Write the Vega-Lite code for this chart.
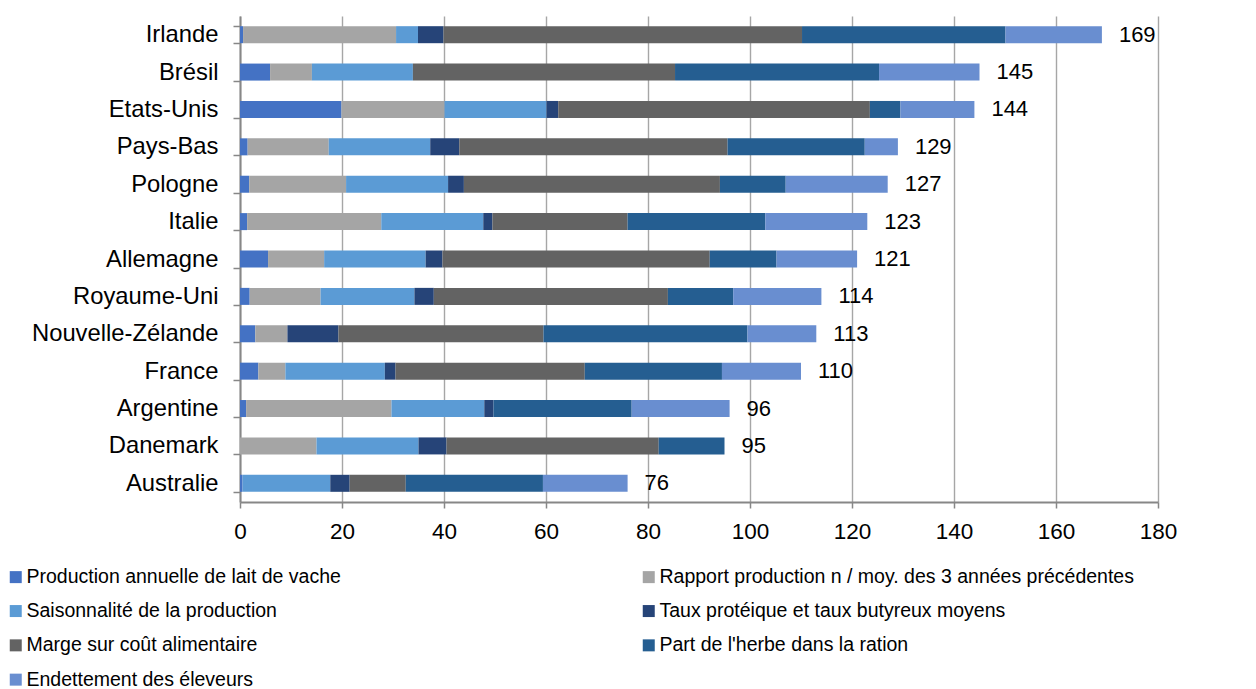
{
  "$schema": "https://vega.github.io/schema/vega-lite/v6.json",
  "width": 918,
  "height": 486,
  "autosize": {"type": "none"},
  "padding": {"left": 240, "top": 16, "right": 98, "bottom": 187},
  "background": "white",
  "config": {
    "font": "Liberation Sans",
    "view": {"stroke": null}
  },
  "datasets": {
    "criteres": [
      {"critere": "Production annuelle de lait de vache", "rang": 1},
      {"critere": "Rapport production  n / moy. des 3 années précédentes", "rang": 2},
      {"critere": "Saisonnalité de la production", "rang": 3},
      {"critere": "Taux protéique et taux butyreux moyens", "rang": 4},
      {"critere": "Marge sur coût alimentaire", "rang": 5},
      {"critere": "Part de l'herbe dans la ration", "rang": 6},
      {"critere": "Endettement des éleveurs", "rang": 7}
    ]
  },
  "data": {
    "values": [
      {"pays": "Irlande", "critere": "Production annuelle de lait de vache", "valeur": 0.6},
      {"pays": "Irlande", "critere": "Rapport production  n / moy. des 3 années précédentes", "valeur": 30.0},
      {"pays": "Irlande", "critere": "Saisonnalité de la production", "valeur": 4.3},
      {"pays": "Irlande", "critere": "Taux protéique et taux butyreux moyens", "valeur": 5.0},
      {"pays": "Irlande", "critere": "Marge sur coût alimentaire", "valeur": 70.3},
      {"pays": "Irlande", "critere": "Part de l'herbe dans la ration", "valeur": 39.9},
      {"pays": "Irlande", "critere": "Endettement des éleveurs", "valeur": 18.9},

      {"pays": "Brésil", "critere": "Production annuelle de lait de vache", "valeur": 5.9},
      {"pays": "Brésil", "critere": "Rapport production  n / moy. des 3 années précédentes", "valeur": 8.2},
      {"pays": "Brésil", "critere": "Saisonnalité de la production", "valeur": 19.8},
      {"pays": "Brésil", "critere": "Taux protéique et taux butyreux moyens", "valeur": 0},
      {"pays": "Brésil", "critere": "Marge sur coût alimentaire", "valeur": 51.4},
      {"pays": "Brésil", "critere": "Part de l'herbe dans la ration", "valeur": 40.0},
      {"pays": "Brésil", "critere": "Endettement des éleveurs", "valeur": 19.7},

      {"pays": "Etats-Unis", "critere": "Production annuelle de lait de vache", "valeur": 19.9},
      {"pays": "Etats-Unis", "critere": "Rapport production  n / moy. des 3 années précédentes", "valeur": 20.2},
      {"pays": "Etats-Unis", "critere": "Saisonnalité de la production", "valeur": 20.0},
      {"pays": "Etats-Unis", "critere": "Taux protéique et taux butyreux moyens", "valeur": 2.3},
      {"pays": "Etats-Unis", "critere": "Marge sur coût alimentaire", "valeur": 61.1},
      {"pays": "Etats-Unis", "critere": "Part de l'herbe dans la ration", "valeur": 6.0},
      {"pays": "Etats-Unis", "critere": "Endettement des éleveurs", "valeur": 14.5},

      {"pays": "Pays-Bas", "critere": "Production annuelle de lait de vache", "valeur": 1.5},
      {"pays": "Pays-Bas", "critere": "Rapport production  n / moy. des 3 années précédentes", "valeur": 15.9},
      {"pays": "Pays-Bas", "critere": "Saisonnalité de la production", "valeur": 19.9},
      {"pays": "Pays-Bas", "critere": "Taux protéique et taux butyreux moyens", "valeur": 5.7},
      {"pays": "Pays-Bas", "critere": "Marge sur coût alimentaire", "valeur": 52.6},
      {"pays": "Pays-Bas", "critere": "Part de l'herbe dans la ration", "valeur": 26.9},
      {"pays": "Pays-Bas", "critere": "Endettement des éleveurs", "valeur": 6.5},

      {"pays": "Pologne", "critere": "Production annuelle de lait de vache", "valeur": 1.8},
      {"pays": "Pologne", "critere": "Rapport production  n / moy. des 3 années précédentes", "valeur": 19.0},
      {"pays": "Pologne", "critere": "Saisonnalité de la production", "valeur": 20.0},
      {"pays": "Pologne", "critere": "Taux protéique et taux butyreux moyens", "valeur": 3.1},
      {"pays": "Pologne", "critere": "Marge sur coût alimentaire", "valeur": 50.2},
      {"pays": "Pologne", "critere": "Part de l'herbe dans la ration", "valeur": 12.9},
      {"pays": "Pologne", "critere": "Endettement des éleveurs", "valeur": 20.0},

      {"pays": "Italie", "critere": "Production annuelle de lait de vache", "valeur": 1.4},
      {"pays": "Italie", "critere": "Rapport production  n / moy. des 3 années précédentes", "valeur": 26.3},
      {"pays": "Italie", "critere": "Saisonnalité de la production", "valeur": 20.0},
      {"pays": "Italie", "critere": "Taux protéique et taux butyreux moyens", "valeur": 1.8},
      {"pays": "Italie", "critere": "Marge sur coût alimentaire", "valeur": 26.5},
      {"pays": "Italie", "critere": "Part de l'herbe dans la ration", "valeur": 27.0},
      {"pays": "Italie", "critere": "Endettement des éleveurs", "valeur": 20.0},

      {"pays": "Allemagne", "critere": "Production annuelle de lait de vache", "valeur": 5.5},
      {"pays": "Allemagne", "critere": "Rapport production  n / moy. des 3 années précédentes", "valeur": 11.0},
      {"pays": "Allemagne", "critere": "Saisonnalité de la production", "valeur": 19.9},
      {"pays": "Allemagne", "critere": "Taux protéique et taux butyreux moyens", "valeur": 3.3},
      {"pays": "Allemagne", "critere": "Marge sur coût alimentaire", "valeur": 52.4},
      {"pays": "Allemagne", "critere": "Part de l'herbe dans la ration", "valeur": 13.1},
      {"pays": "Allemagne", "critere": "Endettement des éleveurs", "valeur": 15.8},

      {"pays": "Royaume-Uni", "critere": "Production annuelle de lait de vache", "valeur": 1.9},
      {"pays": "Royaume-Uni", "critere": "Rapport production  n / moy. des 3 années précédentes", "valeur": 13.9},
      {"pays": "Royaume-Uni", "critere": "Saisonnalité de la production", "valeur": 18.4},
      {"pays": "Royaume-Uni", "critere": "Taux protéique et taux butyreux moyens", "valeur": 3.8},
      {"pays": "Royaume-Uni", "critere": "Marge sur coût alimentaire", "valeur": 45.9},
      {"pays": "Royaume-Uni", "critere": "Part de l'herbe dans la ration", "valeur": 12.8},
      {"pays": "Royaume-Uni", "critere": "Endettement des éleveurs", "valeur": 17.3},

      {"pays": "Nouvelle-Zélande", "critere": "Production annuelle de lait de vache", "valeur": 3.0},
      {"pays": "Nouvelle-Zélande", "critere": "Rapport production  n / moy. des 3 années précédentes", "valeur": 6.3},
      {"pays": "Nouvelle-Zélande", "critere": "Saisonnalité de la production", "valeur": 0},
      {"pays": "Nouvelle-Zélande", "critere": "Taux protéique et taux butyreux moyens", "valeur": 10.0},
      {"pays": "Nouvelle-Zélande", "critere": "Marge sur coût alimentaire", "valeur": 40.2},
      {"pays": "Nouvelle-Zélande", "critere": "Part de l'herbe dans la ration", "valeur": 40.0},
      {"pays": "Nouvelle-Zélande", "critere": "Endettement des éleveurs", "valeur": 13.5},

      {"pays": "France", "critere": "Production annuelle de lait de vache", "valeur": 3.6},
      {"pays": "France", "critere": "Rapport production  n / moy. des 3 années précédentes", "valeur": 5.3},
      {"pays": "France", "critere": "Saisonnalité de la production", "valeur": 19.5},
      {"pays": "France", "critere": "Taux protéique et taux butyreux moyens", "valeur": 2.1},
      {"pays": "France", "critere": "Marge sur coût alimentaire", "valeur": 37.1},
      {"pays": "France", "critere": "Part de l'herbe dans la ration", "valeur": 26.9},
      {"pays": "France", "critere": "Endettement des éleveurs", "valeur": 15.5},

      {"pays": "Argentine", "critere": "Production annuelle de lait de vache", "valeur": 1.2},
      {"pays": "Argentine", "critere": "Rapport production  n / moy. des 3 années précédentes", "valeur": 28.5},
      {"pays": "Argentine", "critere": "Saisonnalité de la production", "valeur": 18.2},
      {"pays": "Argentine", "critere": "Taux protéique et taux butyreux moyens", "valeur": 1.8},
      {"pays": "Argentine", "critere": "Marge sur coût alimentaire", "valeur": 0},
      {"pays": "Argentine", "critere": "Part de l'herbe dans la ration", "valeur": 27.1},
      {"pays": "Argentine", "critere": "Endettement des éleveurs", "valeur": 19.2},

      {"pays": "Danemark", "critere": "Production annuelle de lait de vache", "valeur": 0},
      {"pays": "Danemark", "critere": "Rapport production  n / moy. des 3 années précédentes", "valeur": 15.0},
      {"pays": "Danemark", "critere": "Saisonnalité de la production", "valeur": 20.0},
      {"pays": "Danemark", "critere": "Taux protéique et taux butyreux moyens", "valeur": 5.5},
      {"pays": "Danemark", "critere": "Marge sur coût alimentaire", "valeur": 41.6},
      {"pays": "Danemark", "critere": "Part de l'herbe dans la ration", "valeur": 12.9},
      {"pays": "Danemark", "critere": "Endettement des éleveurs", "valeur": 0},

      {"pays": "Australie", "critere": "Production annuelle de lait de vache", "valeur": 0.5},
      {"pays": "Australie", "critere": "Rapport production  n / moy. des 3 années précédentes", "valeur": 0},
      {"pays": "Australie", "critere": "Saisonnalité de la production", "valeur": 17.2},
      {"pays": "Australie", "critere": "Taux protéique et taux butyreux moyens", "valeur": 3.8},
      {"pays": "Australie", "critere": "Marge sur coût alimentaire", "valeur": 11.0},
      {"pays": "Australie", "critere": "Part de l'herbe dans la ration", "valeur": 26.9},
      {"pays": "Australie", "critere": "Endettement des éleveurs", "valeur": 16.6}
    ]
  },
  "transform": [
    {
      "lookup": "critere",
      "from": {"data": {"name": "criteres"}, "key": "critere", "fields": ["rang"]}
    }
  ],
  "encoding": {
    "y": {
      "field": "pays",
      "type": "nominal",
      "sort": null,
      "scale": {"paddingInner": 0.545, "paddingOuter": 0.2725},
      "axis": {
        "title": null,
        "tickBand": "extent",
        "domainColor": "#878787",
        "domainWidth": 2,
        "tickColor": "#878787",
        "tickWidth": 1.5,
        "tickSize": 7,
        "labelFontSize": 23.8,
        "labelColor": "#000000",
        "labelPadding": 15,
        "labelLimit": 300
      }
    }
  },
  "layer": [
    {
      "transform": [{"filter": "datum.valeur > 0"}],
      "mark": {"type": "bar"},
      "encoding": {
        "x": {
          "field": "valeur",
          "type": "quantitative",
          "stack": "zero",
          "scale": {"domain": [0, 180], "nice": false},
          "axis": {
            "title": null,
            "values": [0, 20, 40, 60, 80, 100, 120, 140, 160, 180],
            "grid": true,
            "gridColor": "#a6a6a6",
            "gridWidth": 1.4,
            "domainColor": "#878787",
            "domainWidth": 2,
            "tickColor": "#878787",
            "tickWidth": 1.5,
            "tickSize": 6,
            "labelFontSize": 22.5,
            "labelColor": "#000000",
            "labelPadding": 12,
            "labelFlush": false
          }
        },
        "order": {"field": "rang", "type": "quantitative", "sort": "ascending"},
        "color": {
          "field": "critere",
          "type": "nominal",
          "sort": [
            "Production annuelle de lait de vache",
            "Rapport production  n / moy. des 3 années précédentes",
            "Saisonnalité de la production",
            "Taux protéique et taux butyreux moyens",
            "Marge sur coût alimentaire",
            "Part de l'herbe dans la ration",
            "Endettement des éleveurs"
          ],
          "scale": {
            "domain": [
              "Production annuelle de lait de vache",
              "Rapport production  n / moy. des 3 années précédentes",
              "Saisonnalité de la production",
              "Taux protéique et taux butyreux moyens",
              "Marge sur coût alimentaire",
              "Part de l'herbe dans la ration",
              "Endettement des éleveurs"
            ],
            "range": ["#4472C4", "#A5A5A5", "#5B9BD5", "#264478", "#636363", "#255E91", "#698ED0"]
          },
          "legend": {
            "title": null,
            "orient": "none",
            "legendX": -234,
            "legendY": 551,
            "direction": "horizontal",
            "columns": 2,
            "columnPadding": 298,
            "rowPadding": 13.3,
            "padding": 0,
            "symbolType": "square",
            "symbolSize": 144,
            "symbolStrokeWidth": 0,
            "symbolOpacity": 1,
            "labelFontSize": 19.5,
            "labelColor": "#000000",
            "labelOffset": 1,
            "labelLimit": 700
          }
        }
      }
    },
    {
      "mark": {"type": "text", "align": "left", "baseline": "middle", "dx": 17, "fontSize": 22, "color": "#000000"},
      "encoding": {
        "x": {"aggregate": "sum", "field": "valeur", "type": "quantitative", "title": null},
        "text": {"aggregate": "sum", "field": "valeur", "type": "quantitative", "format": ".0f"}
      }
    }
  ]
}
